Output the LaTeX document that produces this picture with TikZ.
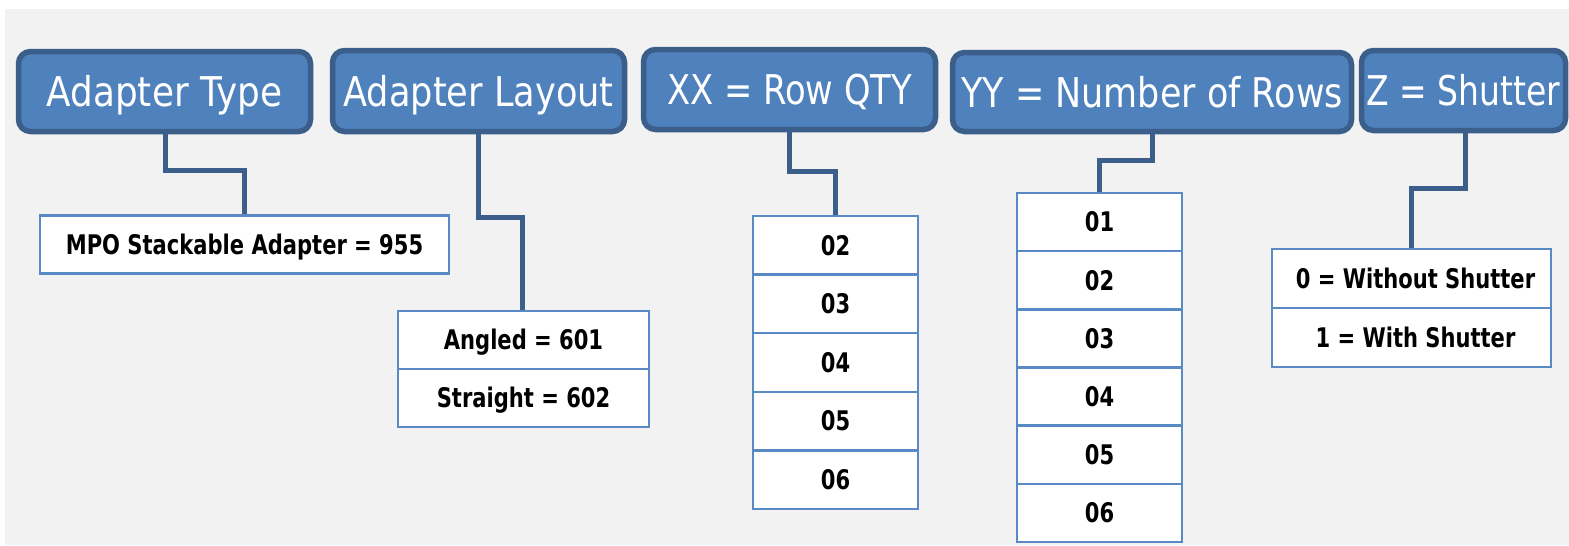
\documentclass[tikz,border=0pt]{standalone}
\usepackage{fontspec}
\newfontfamily\hdrfont{DejaVu Sans}
\newfontfamily\cellfont[FakeStretch=0.78]{DejaVu Sans}
\definecolor{bggray}{HTML}{F2F2F2}
\definecolor{hdrfill}{HTML}{4F81BD}
\definecolor{hdrline}{HTML}{3B5E8B}
\definecolor{cellline}{HTML}{5A8AC6}
\begin{document}
\begin{tikzpicture}[x=1pt,y=-1pt,
  hdr/.style={draw=hdrline, line width=5.5pt, fill=hdrfill, rounded corners=12pt,
    text=white, font=\hdrfont\fontsize{41}{44}\selectfont, inner sep=0pt, outer sep=0pt,
    text height=30pt, text depth=0pt, align=center},
  cell/.style={draw=cellline, line width=2.5pt, fill=white, inner sep=0pt, outer sep=0pt,
    font=\cellfont\bfseries\fontsize{27}{30}\selectfont, text height=19.7pt, text depth=0pt},
  conn/.style={draw=hdrline, line width=5pt}]
\useasboundingbox (0,0) rectangle (1569,546);
\fill[white] (0,0) rectangle (1569,546);
\fill[bggray] (5,9) rectangle (1569,545);

% headers
\node[hdr, minimum width=292pt, minimum height=80pt] (h1) at (164.5,91.5) {\scalebox{0.873}[1]{Adapter Type}};
\node[hdr, minimum width=292pt, minimum height=81pt] (h2) at (478.5,91) {\scalebox{0.858}[1]{Adapter Layout}};
\node[hdr, minimum width=292pt, minimum height=80pt] (h3) at (789.5,89.5) {\scalebox{0.824}[1]{XX = Row QTY}};
\node[hdr, minimum width=399pt, minimum height=79pt] (h4) at (1152,92) {\scalebox{0.853}[1]{YY = Number of Rows}};
\node[hdr, minimum width=204pt, minimum height=80pt] (h5) at (1463.5,90.5) {\scalebox{0.805}[1]{Z = Shutter}};

% cells: adapter type
\node[cell, minimum width=409pt, minimum height=58pt] (mpo) at (244.5,244.5) {MPO Stackable Adapter = 955};
% adapter layout
\node[cell, minimum width=251pt, minimum height=58pt] (lay1) at (523.5,340) {Angled = 601};
\node[cell, minimum width=251pt, minimum height=58pt] (lay2) at (523.5,398) {Straight = 602};
% XX
\foreach \n/\y/\t in {1/245.3/02,2/303.9/03,3/362.5/04,4/421.1/05,5/479.7/06}
  \node[cell, minimum width=165pt, minimum height=58.6pt] (xx\n) at (835.5,\y) {\t};
% YY
\foreach \n/\y/\t in {1/222.1/01,2/280.2/02,3/338.4/03,4/396.6/04,5/454.8/05,6/512.9/06}
  \node[cell, minimum width=165pt, minimum height=58.17pt] (yy\n) at (1099.5,\y) {\t};
% Z
\node[cell, minimum width=279pt, minimum height=59pt] (z1) at (1411.5,278.5) {\hspace*{8pt}0 = Without Shutter};
\node[cell, minimum width=279pt, minimum height=59pt] (z2) at (1411.5,337.5) {\hspace*{8pt}1 = With Shutter};

% connectors
\draw[conn] ([xshift=0.5pt]h1.south) -- ++(0,39) -| (mpo.north);
\draw[conn] ([xshift=-0.5pt]h2.south) -- ++(0,86) -| ([xshift=-1.5pt]lay1.north);
\draw[conn] (h3.south) -- ++(0,41.5) -| (xx1.north);
\draw[conn] (h4.south) -- ++(0,29) -| (yy1.north);
\draw[conn] ([xshift=1.5pt]h5.south) -- ++(0,58) -| (z1.north);

% redraw cell tops over connector ends
\draw[cellline, line width=2.5pt] (mpo.north west) -- (mpo.north east);
\draw[cellline, line width=2.5pt] (lay1.north west) -- (lay1.north east);
\draw[cellline, line width=2.5pt] (xx1.north west) -- (xx1.north east);
\draw[cellline, line width=2.5pt] (yy1.north west) -- (yy1.north east);
\draw[cellline, line width=2.5pt] (z1.north west) -- (z1.north east);
\end{tikzpicture}
\end{document}
